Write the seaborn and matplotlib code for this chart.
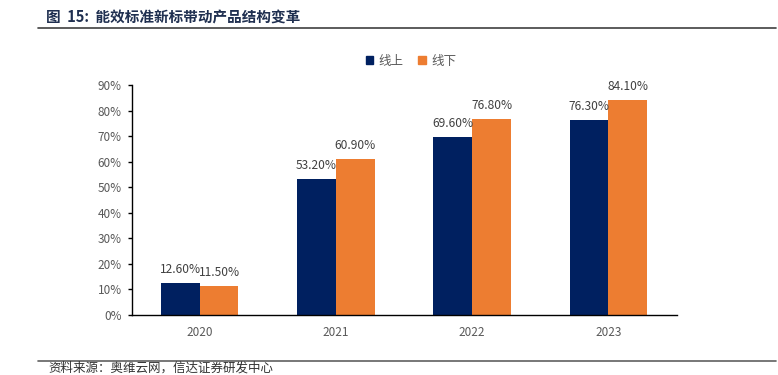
import matplotlib
matplotlib.use("Agg")
import matplotlib.pyplot as plt
import seaborn as sns
import pandas as pd
from matplotlib.lines import Line2D
from matplotlib.patches import Patch

years = ["2020", "2021", "2022", "2023"]
series = ["线上", "线下"]
online = [12.6, 53.2, 69.6, 76.3]
offline = [11.5, 60.9, 76.8, 84.1]
yticks = [0, 10, 20, 30, 40, 50, 60, 70, 80, 90]
colors = ["#002060", "#ED7D31"]

df = pd.DataFrame({
    "year": years * 2,
    "channel": [series[0]] * 4 + [series[1]] * 4,
    "value": online + offline,
})

sns.set_theme(style="white")
plt.rcParams["font.family"] = ["Noto Sans CJK SC", "DejaVu Sans"]

fig = plt.figure(figsize=(7.78, 3.75), dpi=100)
ax = fig.add_axes([131.5 / 778, 60 / 375, (676.5 - 131.5) / 778, 230 / 375])

sns.barplot(data=df, x="year", y="value", hue="channel", palette=colors,
            width=0.57, saturation=1, ax=ax, legend=False, linewidth=0)

for container in ax.containers:
    ax.bar_label(container, labels=[f"{v:.2f}%" for v in container.datavalues],
                 padding=5, fontsize=8.6, color="#404040")

ax.set_ylim(0, 90)
ax.set_yticks(yticks)
ax.set_yticklabels([f"{t}%" for t in yticks], fontsize=8.5, color="#595959")
ax.tick_params(axis="x", labelsize=8.5, colors="#595959", length=0, pad=8)
ax.tick_params(axis="y", left=True, length=3, width=1, color="black", pad=4)
ax.set_xlabel("")
ax.set_ylabel("")
for s in ["top", "right"]:
    ax.spines[s].set_visible(False)
for s in ["left", "bottom"]:
    ax.spines[s].set_color("black")
    ax.spines[s].set_linewidth(1)

handles = [Patch(facecolor=c, edgecolor=c) for c in colors]
fig.legend(handles, series, loc="center", bbox_to_anchor=(411 / 778, 1 - 61 / 375),
           ncol=2, frameon=False, fontsize=9, handlelength=0.6, handleheight=0.6,
           handletextpad=0.4, columnspacing=1.2, labelcolor="#595959")

fig.text(46 / 778, 1 - 17 / 375, "图  15:  能效标准新标带动产品结构变革", fontsize=10.5,
         fontweight="bold", color="#1F2F50", va="center", ha="left")
fig.add_artist(Line2D([38 / 778, 776 / 778], [1 - 27.5 / 375] * 2, color="#404040", lw=1.2))
fig.add_artist(Line2D([38 / 778, 776 / 778], [1 - 361 / 375] * 2, color="#606060", lw=1.2))
fig.text(48 / 778, 1 - 368 / 375, "资料来源：奥维云网，信达证券研发中心", fontsize=9,
         style="italic", color="#333333", va="center", ha="left")

fig.savefig("out.png", dpi=100)
